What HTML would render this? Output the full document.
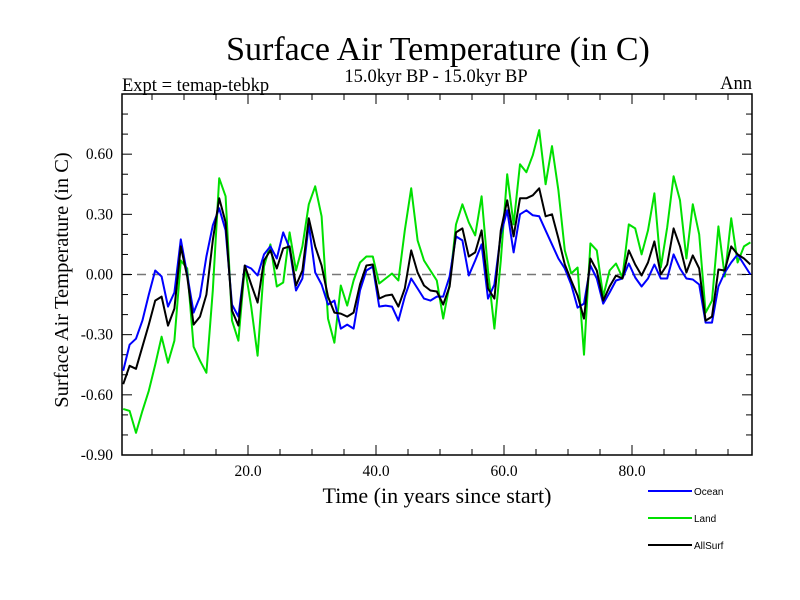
<!DOCTYPE html>
<html><head><meta charset="utf-8"><style>
body{margin:0;background:#fff}
svg{display:block}
text{font-family:"Liberation Serif",serif}
</style></head><body>
<svg id="chart" width="800" height="600" viewBox="0 0 800 600">
<text x="438" y="60" font-size="34" text-anchor="middle">Surface Air Temperature (in C)</text>
<text x="436" y="82" font-size="18.5" text-anchor="middle">15.0kyr BP - 15.0kyr BP</text>
<text x="122" y="91" font-size="18.5">Expt = temap-tebkp</text>
<text x="752" y="89" font-size="18.5" text-anchor="end">Ann</text>
<text x="437" y="503" font-size="22" text-anchor="middle">Time (in years since start)</text>
<text transform="translate(68,280) rotate(-90)" font-size="20.5" text-anchor="middle">Surface Air Temperature (in C)</text>
<g id="axes"></g>
<g id="series"></g>
<g id="legend"></g>
</svg>
<script>
const ocean=[-0.48,-0.35,-0.32,-0.23,-0.10,0.02,-0.01,-0.16,-0.09,0.175,0.0,-0.19,-0.11,0.09,0.245,0.33,0.22,-0.15,-0.21,0.045,0.03,-0.005,0.10,0.14,0.08,0.21,0.13,-0.08,-0.02,0.25,0.01,-0.05,-0.15,-0.13,-0.27,-0.25,-0.27,-0.08,0.02,0.04,-0.16,-0.155,-0.16,-0.23,-0.11,-0.02,-0.07,-0.12,-0.13,-0.11,-0.11,-0.01,0.19,0.17,-0.005,0.07,0.15,-0.12,-0.05,0.20,0.32,0.11,0.30,0.32,0.295,0.29,0.22,0.15,0.08,0.03,-0.05,-0.165,-0.145,0.045,-0.02,-0.145,-0.09,-0.03,-0.02,0.055,-0.015,-0.06,-0.02,0.05,-0.02,-0.02,0.10,0.03,-0.02,-0.025,-0.05,-0.24,-0.24,-0.06,0.01,0.06,0.10,0.05,0.0];
const land=[-0.67,-0.68,-0.79,-0.68,-0.58,-0.45,-0.31,-0.44,-0.33,0.07,0.03,-0.36,-0.43,-0.49,-0.08,0.48,0.39,-0.23,-0.33,0.04,-0.16,-0.405,0.04,0.15,-0.06,-0.04,0.21,0.02,0.14,0.35,0.44,0.29,-0.22,-0.34,-0.055,-0.155,-0.03,0.06,0.09,0.09,-0.045,-0.02,0.005,-0.03,0.22,0.43,0.17,0.07,0.02,-0.03,-0.22,-0.05,0.25,0.35,0.26,0.195,0.39,0.02,-0.27,0.07,0.50,0.25,0.55,0.51,0.595,0.72,0.45,0.64,0.42,0.12,0.005,0.035,-0.40,0.155,0.12,-0.11,0.02,0.055,-0.015,0.25,0.23,0.10,0.22,0.405,0.035,0.235,0.49,0.37,0.08,0.35,0.20,-0.19,-0.13,0.24,-0.01,0.28,0.06,0.14,0.16];
const allsurf=[-0.547,-0.455,-0.47,-0.36,-0.25,-0.13,-0.11,-0.255,-0.17,0.14,-0.01,-0.25,-0.21,-0.10,0.17,0.38,0.26,-0.18,-0.255,0.045,-0.05,-0.14,0.07,0.12,0.03,0.13,0.14,-0.055,0.02,0.28,0.14,0.045,-0.11,-0.19,-0.195,-0.21,-0.19,-0.05,0.045,0.05,-0.12,-0.105,-0.10,-0.16,-0.07,0.12,0.01,-0.055,-0.08,-0.085,-0.15,-0.06,0.21,0.23,0.09,0.11,0.22,-0.07,-0.12,0.22,0.37,0.19,0.38,0.38,0.395,0.43,0.29,0.30,0.18,0.05,-0.03,-0.105,-0.22,0.08,0.02,-0.13,-0.06,-0.005,-0.02,0.12,0.05,-0.005,0.06,0.165,0.0,0.05,0.23,0.14,0.01,0.095,0.03,-0.23,-0.21,0.025,0.02,0.14,0.10,0.08,0.05];
const yTicks=[-0.90,-0.60,-0.30,0.00,0.30,0.60];
const yTickLabels=["-0.90","-0.60","-0.30","0.00","0.30","0.60"];
const xTicks=[20,40,60,80];
const xTickLabels=["20.0","40.0","60.0","80.0"];
const seriesNames=["Ocean","Land","AllSurf"];
const seriesColors=["#0000ff","#00e000","#000000"];

const L=122,R=752,T=94,B=455,XMIN=0.3125,XMAX=98.75,YMIN=-0.9,YMAX=0.9;
const xs=v=>L+(v-XMIN)/(XMAX-XMIN)*(R-L);
const ys=v=>B-(v-YMIN)/(YMAX-YMIN)*(B-T);
const NS="http://www.w3.org/2000/svg";
function mk(tag,attrs,parent){const e=document.createElementNS(NS,tag);for(const k in attrs)e.setAttribute(k,attrs[k]);parent.appendChild(e);return e;}
const axes=document.getElementById('axes'),ser=document.getElementById('series'),leg=document.getElementById('legend');

const zl=mk('line',{x1:L,x2:R,y1:ys(0),y2:ys(0),stroke:'#777','stroke-width':1.5,'stroke-dasharray':'9,6'},axes);



for(let k=-9;k<=9;k++){const v=k/10,y=ys(v),maj=(k%3===0);const len=maj?10:6;
 const t1=mk('line',{x1:L,x2:L+len,y1:y,y2:y,stroke:'#000','stroke-width':1},axes);
 
 
 const t2=mk('line',{x1:R,x2:R-len,y1:y,y2:y,stroke:'#000','stroke-width':1},axes);
 
 }
for(let v=5;v<=95;v+=5){const x=xs(v),maj=(v%20===0);const len=maj?10:6;
 const t1=mk('line',{x1:x,x2:x,y1:B,y2:B-len,stroke:'#000','stroke-width':1},axes);
 
 
 const t2=mk('line',{x1:x,x2:x,y1:T,y2:T+len,stroke:'#000','stroke-width':1},axes);
 
 }
yTicks.forEach((v,i)=>{const t=mk('text',{x:L-9,y:ys(v)+5,'font-size':15.5,'text-anchor':'end'},axes);t.textContent=yTickLabels[i];
 
 });
xTicks.forEach((v,i)=>{const t=mk('text',{x:xs(v),y:B+21,'font-size':15.5,'text-anchor':'middle'},axes);t.textContent=xTickLabels[i];
 
 });

[ocean,land,allsurf].forEach((d,si)=>{
 const pts=d.map((v,i)=>xs(i+0.5).toFixed(1)+','+ys(v).toFixed(1)).join(' ');
 const p=mk('polyline',{points:pts,fill:'none',stroke:seriesColors[si],'stroke-width':2,'stroke-linejoin':'round'},ser);
 
 
});
ser.insertBefore(ser.children[1],ser.children[0]);

const fr=mk('rect',{x:L,y:T,width:R-L,height:B-T,fill:'none',stroke:'#000','stroke-width':1.5},axes);



seriesNames.forEach((n,i)=>{const y=491+i*27;
 const g=mk('g',{},leg);
 
 
 mk('line',{x1:648,x2:692,y1:y,y2:y,stroke:seriesColors[i],'stroke-width':2},g);
 const t=mk('text',{x:694,y:y+4,'font-size':10,style:'font-family:"Liberation Sans",sans-serif'},g);t.textContent=n;});
</script>
</body></html>
